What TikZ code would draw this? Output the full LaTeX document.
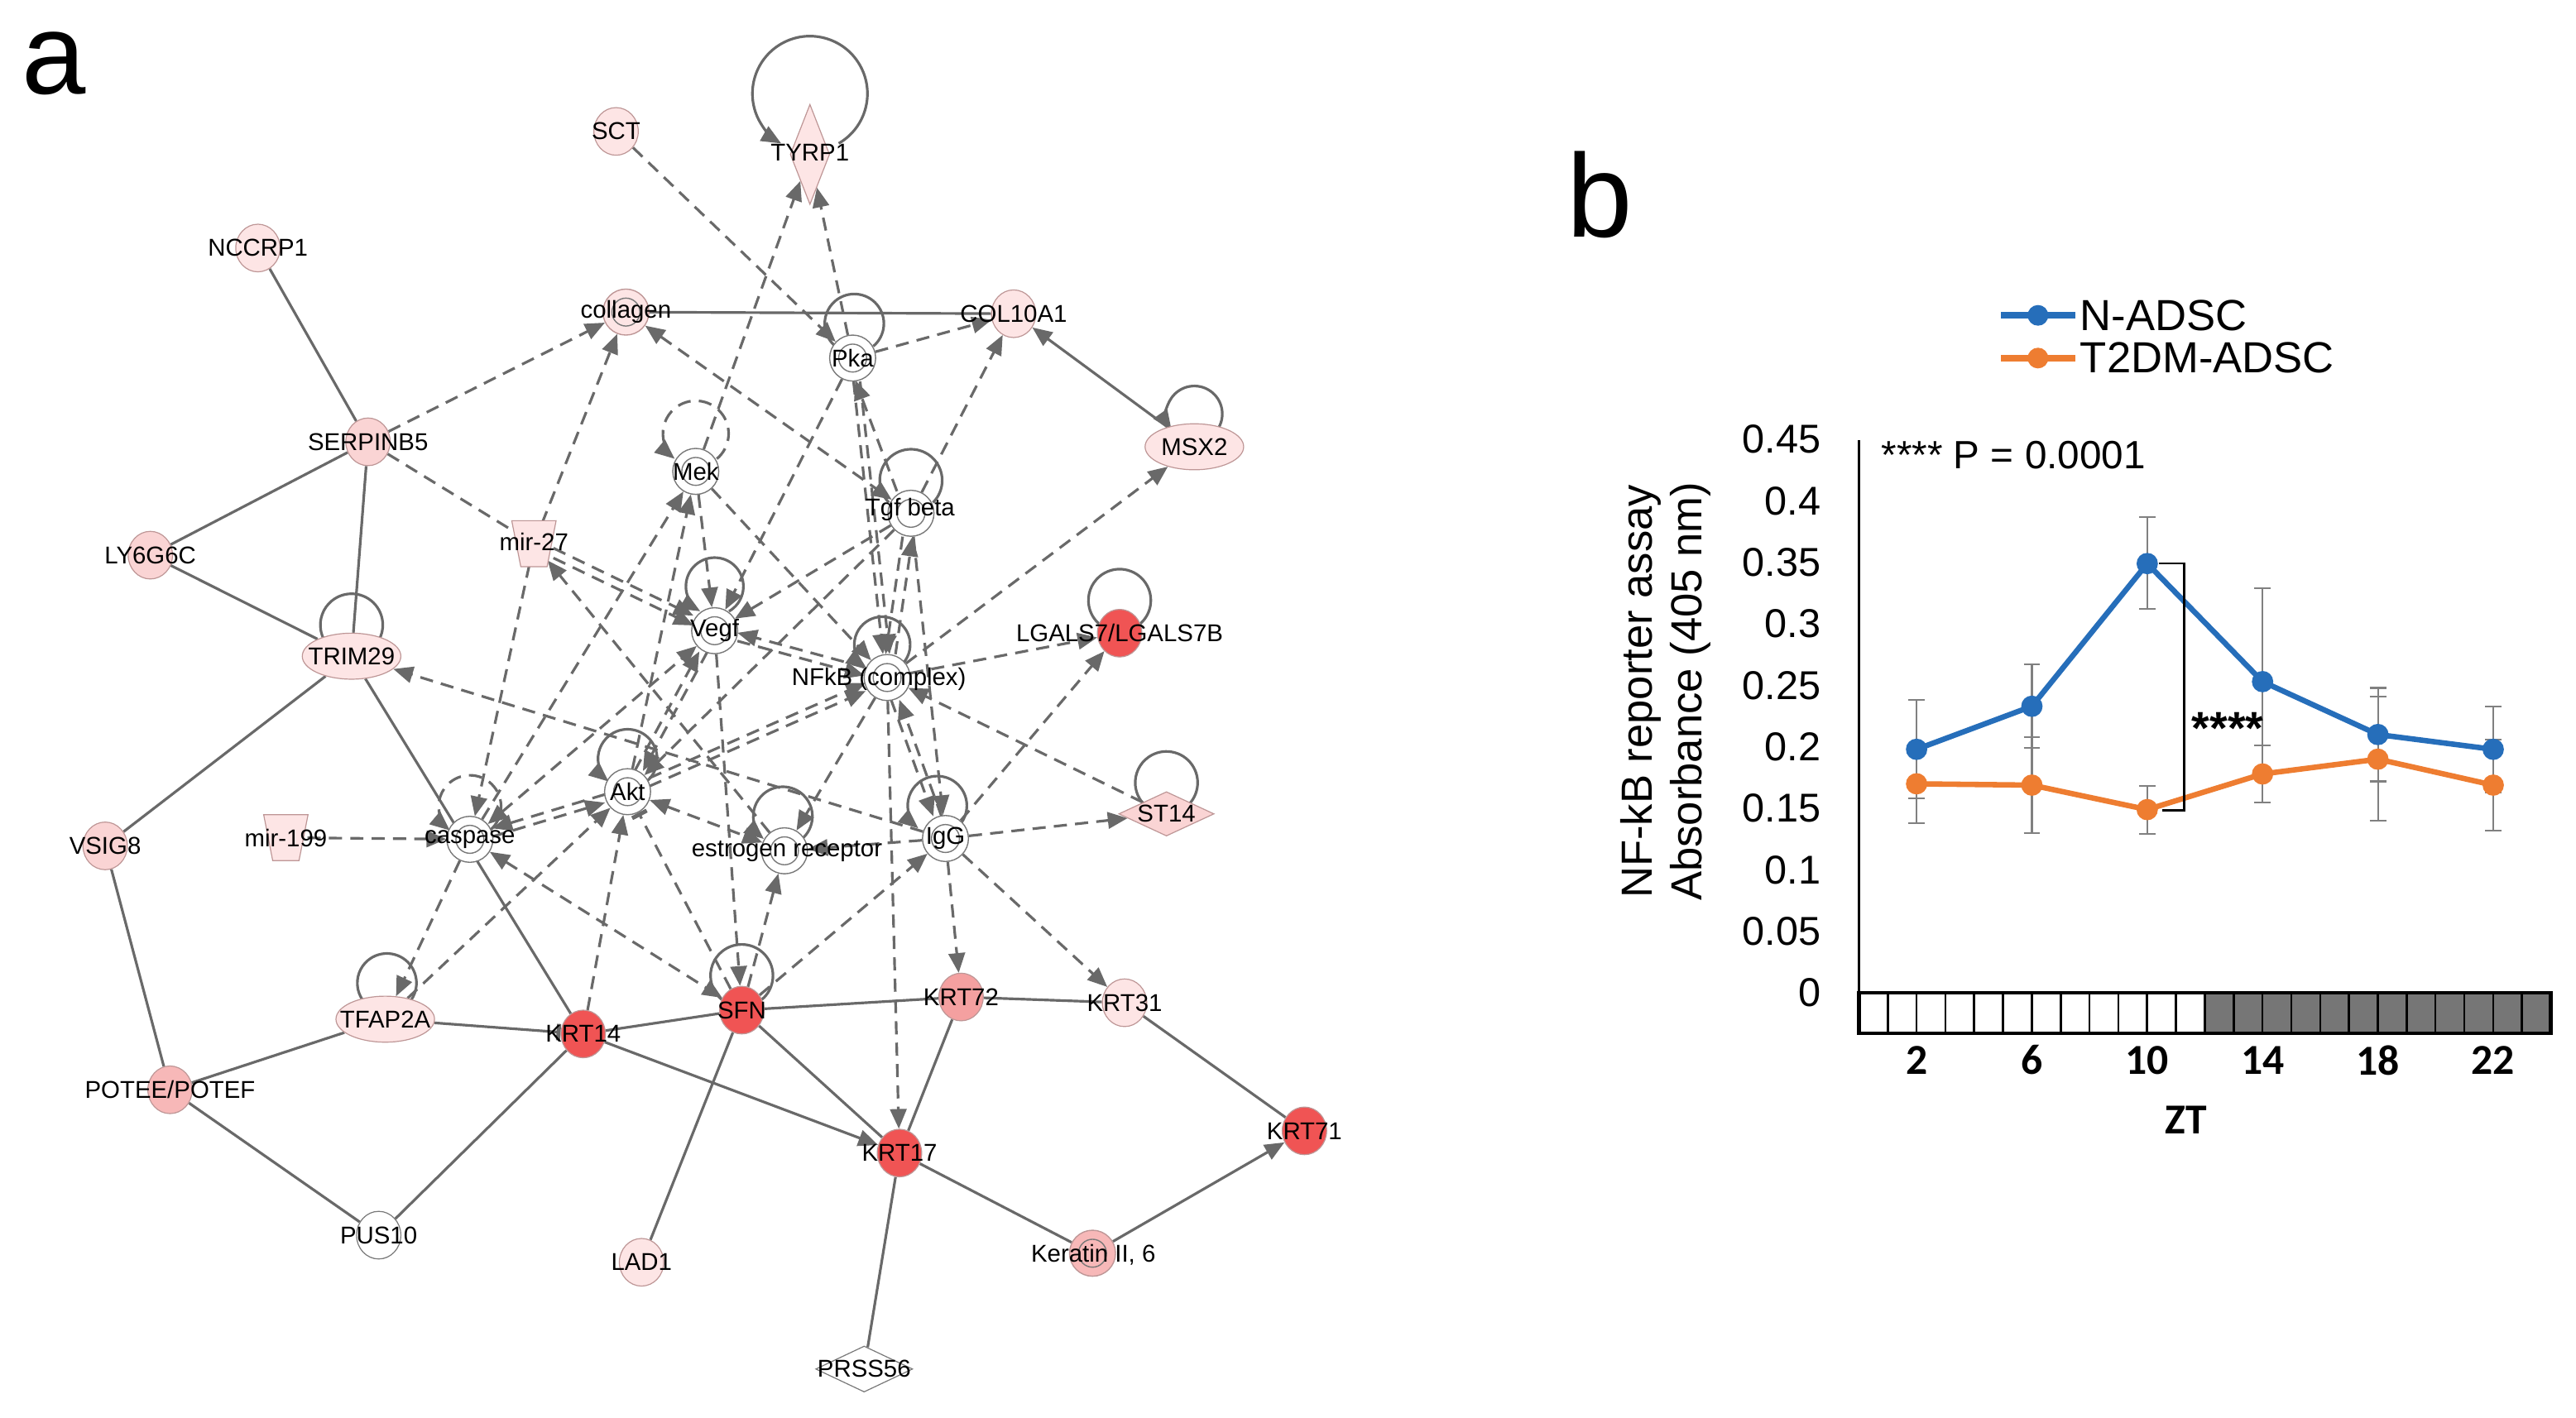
\documentclass[tikz,border=0pt]{standalone}
\usepackage{fontspec}
\setmainfont{Liberation Sans}
\newfontfamily\carl{Carlito}
\usetikzlibrary{shapes.geometric,arrows.meta,calc}
\pgfdeclarelayer{bg}
\pgfsetlayers{bg,main}
\definecolor{eg}{RGB}{105,105,105}
\definecolor{pbd}{RGB}{190,150,150}
\definecolor{wbd}{RGB}{120,120,120}
\definecolor{pa}{RGB}{253,229,229}
\definecolor{pb}{RGB}{250,212,212}
\definecolor{pc}{RGB}{247,184,184}
\definecolor{pd}{RGB}{244,160,160}
\definecolor{rd}{RGB}{240,84,84}
\definecolor{nblue}{RGB}{38,110,186}
\definecolor{norange}{RGB}{238,125,49}
\definecolor{ebar}{RGB}{128,128,128}
\definecolor{cellgray}{RGB}{118,118,118}
\newcommand\selfloop[6]{%
  \draw[#1] (#2.center) ++({#3+#5*cos(#6)},{#4+#5*sin(#6)}) arc[start angle=#6, end angle={-180-#6}, radius=#5];}
\newcommand\mirshape[1]{%
  \filldraw[fill=pa, draw=pbd, line width=0.6pt] ($(#1)+(-13.5,-14)$) -- ($(#1)+(13.5,-14)$) -- ($(#1)+(8,14)$) -- ($(#1)+(-8,14)$) -- cycle;}
\tikzset{
  gcirc/.style={ellipse, minimum width=27pt, minimum height=29pt, inner sep=0pt, draw=pbd, line width=0.6pt, fill=#1},
  gcirc/.default=pa,
  wcirc/.style={circle, minimum size=28pt, inner sep=0pt, draw=wbd, line width=0.7pt, fill=#1,
    path picture={\draw[wbd, line width=0.7pt] (path picture bounding box.center) circle[radius=8.5pt];}},
  wcirc/.default=white,
  gell/.style={ellipse, minimum width=60pt, minimum height=28pt, inner sep=0pt, draw=pbd, line width=0.6pt, fill=pa},
  gdia/.style={diamond, inner sep=0pt, draw=pbd, line width=0.6pt, fill=pa},
  mirnode/.style={circle, minimum size=26pt, inner sep=0pt},
  glab/.style={font=\fontsize{14.8}{16}\selectfont, inner sep=0pt, text=black},
  solidE/.style={draw=eg, line width=1.6pt},
  dashE/.style={draw=eg, line width=1.6pt, dash pattern=on 8pt off 5pt},
  tipE/.style={-{Triangle[length=12pt,width=10pt]}},
  tipB/.style={{Triangle[length=12pt,width=10pt]}-{Triangle[length=12pt,width=10pt]}},
  barE/.style={-{Bar[width=10pt,line width=2.5pt]}},
  offs/.style={transform canvas={shift={#1}}},
  ytl/.style={anchor=east, inner sep=0pt, font=\fontsize{24.5}{28}\selectfont},
  xtl/.style={inner sep=0pt, font=\carl\bfseries\fontsize{26}{28}\selectfont},
  legt/.style={anchor=west, inner sep=0pt, font=\fontsize{26.5}{30}\selectfont},
}
\begin{document}
\begin{tikzpicture}[x=1pt, y=-1pt]
\begin{pgfonlayer}{bg}
\fill[white] (0,0) rectangle (1568,863);
\end{pgfonlayer}
\useasboundingbox (0,0) rectangle (1568,863);

% ---------------- panel labels
\node[anchor=base west, inner sep=0pt, font=\fontsize{70}{80}\selectfont] (pa-lab) at (13,57) {a};
\node[anchor=base west, inner sep=0pt, font=\fontsize{72}{80}\selectfont] (pb-lab) at (953.5,144.5) {b};

% ---------------- network nodes
\node[gcirc] (sct) at (375,80) {};
\node[gdia, minimum width=24pt, minimum height=61pt] (tyrp) at (493,94) {};
\node[gcirc] (nccrp) at (157,151) {};
\node[wcirc=pa, draw=pbd] (coll) at (381,190) {};
\node[gcirc] (col10) at (617,191) {};
\node[wcirc] (pka) at (519,218) {};
\node[gcirc=pb] (serp) at (224,269) {};
\node[gell] (msx) at (727,272) {};
\node[wcirc] (mek) at (423.5,287) {};
\node[wcirc] (tgf) at (554.5,312.5) {};
\node[mirnode] (mir27) at (325,331) {};
\mirshape{mir27}
\node[gcirc=pb] (ly6) at (91.5,338) {};
\node[wcirc] (vegf) at (435,384) {};
\node[gcirc=rd] (lgals) at (681.5,385.5) {};
\node[gell] (trim) at (214,399.5) {};
\node[wcirc] (nfkb) at (540,412.5) {};
\node[wcirc] (akt) at (382,482) {};
\node[gdia, minimum width=58pt, minimum height=27pt, fill=pb] (st14) at (710,495.5) {};
\node[wcirc] (casp) at (286,511) {};
\node[mirnode] (mir199) at (174,510) {};
\mirshape{mir199}
\node[gcirc=pb] (vsig) at (64,515) {};
\node[wcirc] (estr) at (477.5,518) {};
\node[wcirc] (igg) at (575.5,510.5) {};
\node[gell] (tfap) at (234.5,620.5) {};
\node[gcirc=rd] (krt14) at (355,629.5) {};
\node[gcirc=rd] (sfn) at (451.5,615) {};
\node[gcirc=pd] (krt72) at (585,607) {};
\node[gcirc] (krt31) at (684.5,610.5) {};
\node[gcirc=pc] (potee) at (103.5,663.5) {};
\node[gcirc=rd] (krt17) at (547.5,702) {};
\node[gcirc=rd] (krt71) at (794,688.5) {};
\node[gcirc=white, draw=wbd] (pus10) at (230.5,752) {};
\node[gcirc] (lad1) at (390.5,768.5) {};
\node[wcirc=pc, draw=pbd] (ker6) at (665,763) {};
\node[gdia, minimum width=59pt, minimum height=28pt, fill=white, draw=wbd] (prss) at (526,833.5) {};

% ---------------- network labels
\node[glab] (sct-l) at (sct) {SCT};
\node[glab] (tyrp-l) at (493,93) {TYRP1};
\node[glab] (nccrp-l) at (nccrp) {NCCRP1};
\node[glab] (coll-l) at (coll) {collagen};
\node[glab] (col10-l) at (col10) {COL10A1};
\node[glab] (pka-l) at (pka) {Pka};
\node[glab] (serp-l) at (serp) {SERPINB5};
\node[glab] (msx-l) at (msx) {MSX2};
\node[glab] (mek-l) at (mek) {Mek};
\node[glab] (tgf-l) at (554,310) {Tgf beta};
\node[glab] (mir27-l) at (325,330) {mir-27};
\node[glab] (ly6-l) at (ly6) {LY6G6C};
\node[glab] (vegf-l) at (vegf) {Vegf};
\node[glab] (lgals-l) at (lgals) {LGALS7/LGALS7B};
\node[glab] (trim-l) at (trim) {TRIM29};
\node[glab] (nfkb-l) at (535,413.5) {NFkB (complex)};
\node[glab] (akt-l) at (akt) {Akt};
\node[glab] (st14-l) at (st14) {ST14};
\node[glab] (casp-l) at (casp) {caspase};
\node[glab] (mir199-l) at (174,510) {mir-199};
\node[glab] (vsig-l) at (vsig) {VSIG8};
\node[glab] (estr-l) at (479,518.5) {estrogen receptor};
\node[glab] (igg-l) at (igg) {IgG};
\node[glab] (tfap-l) at (tfap) {TFAP2A};
\node[glab] (krt14-l) at (krt14) {KRT14};
\node[glab] (sfn-l) at (sfn) {SFN};
\node[glab] (krt72-l) at (krt72) {KRT72};
\node[glab] (krt31-l) at (krt31) {KRT31};
\node[glab] (potee-l) at (potee) {POTEE/POTEF};
\node[glab] (krt17-l) at (krt17) {KRT17};
\node[glab] (krt71-l) at (krt71) {KRT71};
\node[glab] (pus10-l) at (pus10) {PUS10};
\node[glab] (lad1-l) at (lad1) {LAD1};
\node[glab] (ker6-l) at (665.5,764) {Keratin II, 6};
\node[glab] (prss-l) at (prss) {PRSS56};

% ---------------- network connectors
\begin{pgfonlayer}{bg}
% solid
\draw[solidE] (serp) -- (nccrp);
\draw[solidE] (serp) -- (ly6);
\draw[solidE] (serp) -- (trim);
\draw[solidE] (ly6) -- (trim);
\draw[solidE] (trim) -- (vsig);
\draw[solidE] (trim) -- (krt14);
\draw[solidE] (vsig) -- (potee);
\draw[solidE] (potee) -- (tfap);
\draw[solidE] (potee) -- (pus10);
\draw[solidE, barE] (tfap) -- (krt14);
\draw[solidE] (krt14) -- (sfn);
\draw[solidE] (krt14) -- (pus10);
\draw[solidE, tipE] (krt14) -- (krt17);
\draw[solidE] (sfn) -- (krt72);
\draw[solidE] (krt72) -- (krt31);
\draw[solidE] (sfn) -- (krt17);
\draw[solidE] (krt72) -- (krt17);
\draw[solidE] (sfn) -- (lad1);
\draw[solidE] (krt31) -- (krt71);
\draw[solidE] (krt17) -- (ker6);
\draw[solidE, tipE] (ker6) -- (krt71);
\draw[solidE] (krt17) -- (prss);
\draw[solidE] (coll) -- (col10);
\draw[solidE, tipE] (msx) -- (col10);
% dashed
\draw[dashE, tipE] (sct) -- (pka);
\draw[dashE, tipE] (serp) -- (coll);
\draw[dashE] (serp) -- (mir27);
\draw[dashE, tipE] (mir27) -- (coll);
\draw[dashE, tipE, offs={(0,-3)}] (mir27) -- (vegf);
\draw[dashE, tipE, offs={(0,3)}] (mir27) -- (vegf);
\draw[dashE, tipE] (estr) -- (mir27);
\draw[dashE, tipE] (mir27) -- (casp);
\draw[dashE, tipE] (pka) -- (tyrp);
\draw[dashE, tipE] (mek) -- (tyrp);
\draw[dashE, tipE] (pka) -- (col10);
\draw[dashE, tipE] (pka) -- (vegf);
\draw[dashE, tipE, offs={(-3.5,0)}] (tgf) -- (pka);
\draw[dashE, tipE, offs={(-1,0)}] (pka) -- (nfkb);
\draw[dashE, tipE, offs={(3,0)}] (pka) -- (nfkb);
\draw[dashE, tipB] (coll) -- (tgf);
\draw[dashE, tipE] (tgf) -- (col10);
\draw[dashE, tipE] (tgf) -- (vegf);
\draw[dashE, tipE, offs={(-3,0)}] (tgf) -- (nfkb);
\draw[dashE, tipE, offs={(3,0)}] (nfkb) -- (tgf);
\draw[dashE, tipE] (tgf) -- (igg);
\draw[dashE, tipE] (tgf) -- (akt);
\draw[dashE, tipE] (mek) -- (vegf);
\draw[dashE, tipE] (mek) -- (nfkb);
\draw[dashE, tipE] (akt) -- (mek);
\draw[dashE, tipE] (casp) -- (mek);
\draw[dashE, tipE, offs={(0,-2.5)}] (nfkb) -- (vegf);
\draw[dashE, tipE, offs={(0,2.5)}] (vegf) -- (nfkb);
\draw[dashE, tipE] (nfkb) -- (lgals);
\draw[dashE, tipE] (nfkb) -- (msx);
\draw[dashE, tipE] (st14) -- (nfkb);
\draw[dashE, tipE, offs={(-2.5,0)}] (nfkb) -- (igg);
\draw[dashE, tipE, offs={(2.5,0)}] (igg) -- (nfkb);
\draw[dashE, tipE] (nfkb) -- (krt17);
\draw[dashE, tipE] (nfkb) -- (estr);
\draw[dashE, tipE, offs={(0,-2.5)}] (akt) -- (nfkb);
\draw[dashE, tipE, offs={(0,2.5)}] (akt) -- (nfkb);
\draw[dashE, tipE, offs={(-2.5,0)}] (akt) -- (vegf);
\draw[dashE, tipE, offs={(2.5,0)}] (vegf) -- (akt);
\draw[dashE, tipB] (casp) -- (vegf);
\draw[dashE, tipE, offs={(0,-2.5)}] (akt) -- (casp);
\draw[dashE, tipE, offs={(0,2.5)}] (casp) -- (akt);
\draw[dashE, tipE] (mir199) -- (casp);
\draw[dashE, tipE] (krt14) -- (akt);
\draw[dashE, tipE] (tfap) -- (akt);
\draw[dashE, tipE] (casp) -- (tfap);
\draw[dashE, barE] (sfn) -- (akt);
\draw[dashE, tipB] (casp) -- (sfn);
\draw[dashE, tipB] (akt) -- (estr);
\draw[dashE, tipE] (vegf) -- (sfn);
\draw[dashE, tipE] (sfn) -- (igg);
\draw[dashE, tipE] (sfn) -- (estr);
\draw[dashE, tipE] (igg) -- (lgals);
\draw[dashE, tipE] (igg) -- (st14);
\draw[dashE, tipE] (igg) -- (krt72);
\draw[dashE, tipE] (igg) -- (krt31);
\draw[dashE, tipE] (igg) -- (trim);
\draw[dashE, tipE] (igg) -- (estr);
% self loops
\selfloop{solidE,tipE}{tyrp}{0}{-37}{35}{60}
\selfloop{solidE}{pka}{1}{-21}{18}{50}
\selfloop{dashE,tipE}{mek}{0}{-23}{20}{50}
\selfloop{solidE}{tgf}{0}{-20}{19}{45}
\selfloop{solidE,tipE}{vegf}{0}{-27}{17.5}{60}
\selfloop{solidE,tipE}{nfkb}{-3}{-20}{17}{55}
\selfloop{solidE,tipE}{akt}{0}{-20}{18}{50}
\selfloop{solidE,tipE}{estr}{-1}{-21}{18}{50}
\selfloop{solidE,tipE}{igg}{-5}{-20}{18}{50}
\selfloop{solidE}{sfn}{0}{-21}{19}{50}
\selfloop{dashE,tipE}{casp}{0}{-20}{19}{50}
\selfloop{solidE}{trim}{0}{-19}{19}{50}
\selfloop{solidE}{tfap}{1}{-22}{18}{50}
\selfloop{solidE}{lgals}{0}{-20}{19}{50}
\selfloop{solidE}{st14}{0}{-19}{19}{55}
\selfloop{solidE,tipE}{msx}{0}{-20}{17}{35}
\end{pgfonlayer}

% ---------------- panel b: chart
% legend
\draw[nblue, line width=3.8pt] (1218,192) coordinate (lgb1) -- (1263,192) coordinate (lgb2);
\fill[nblue] (1240.5,192) circle[radius=6.3];
\node[legt] (legn) at (1266,192) {N-ADSC};
\draw[norange, line width=3.8pt] (1218,218) coordinate (lgo1) -- (1263,218) coordinate (lgo2);
\fill[norange] (1240.5,218) circle[radius=6.3];
\node[legt] (lego) at (1266,218) {T2DM-ADSC};

% y axis
\draw[black, line width=1.2pt] (1131.5,268) coordinate (yax-top) -- (1131.5,604.5) coordinate (yax-bot);
\foreach \v/\t/\n in {0/0/a,0.05/0.05/b,0.1/0.1/c,0.15/0.15/d,0.2/0.2/e,0.25/0.25/f,0.3/0.3/g,0.35/0.35/h,0.4/0.4/i,0.45/0.45/j}
  \node[ytl] (ytick-\n) at (1108.5,{604.5-748.9*\v}) {\t};
\node[rotate=90, align=center, inner sep=0pt, font=\fontsize{26.5}{30}\selectfont] (ytitle) at (1014,421) {NF-kB reporter assay\\Absorbance (405 nm)};

% light/dark bar
\foreach \i in {0,...,23}{
  \pgfmathsetmacro\xa{1131.5+17.546*\i}
  \pgfmathsetmacro\xb{\xa+17.546}
  \ifnum\i<12 \def\cf{white}\else \def\cf{cellgray}\fi
  \draw[black, line width=1.3pt, fill=\cf] (\xa,604.5) rectangle (\xb,629);
}
\draw[black, line width=2.2pt] (1131.5,604.5) rectangle (1552.6,629);
\foreach \h in {2,6,10,14,18,22}
  \node[xtl] (xtick-\h) at ({1131.5+17.55*\h},645.5) {\h};
\node[xtl] (zt) at (1330.5,682) {ZT};

% p value
\node[anchor=west, inner sep=0pt, font=\fontsize{24}{28}\selectfont] (pval) at (1145,277) {**** P = 0.0001};

% data lines
\draw[nblue, line width=3.3pt, line join=round] (1166.6,456.2) -- (1236.8,430.0) -- (1307.0,343.1) -- (1377.2,415.0) -- (1447.4,447.2) -- (1517.6,456.2);
\draw[norange, line width=3.3pt, line join=round] (1166.6,477.2) -- (1236.8,478.0) -- (1307.0,492.9) -- (1377.2,471.2) -- (1447.4,462.2) -- (1517.6,478.0);

% error bars
\foreach \x/\lo/\hi in {1166.6/486.2/426.3, 1236.8/455.5/404.5, 1307.0/370.9/314.7, 1377.2/471.9/358.1, 1447.4/475.7/418.8, 1517.6/482.4/430.0,
                         1166.6/501.2/453.2, 1236.8/507.1/448.7, 1307.0/507.9/478.7, 1377.2/488.4/454.0, 1447.4/499.7/424.0, 1517.6/505.6/450.2}{
  \draw[ebar, line width=1.1pt] (\x,\lo) -- (\x,\hi);
  \draw[ebar, line width=1.1pt] ({\x-5},\lo) -- ({\x+5},\lo);
  \draw[ebar, line width=1.1pt] ({\x-5},\hi) -- ({\x+5},\hi);
}

% markers
\foreach \x/\y in {1166.6/456.2, 1236.8/430.0, 1307.0/343.1, 1377.2/415.0, 1447.4/447.2, 1517.6/456.2}
  \fill[nblue] (\x,\y) circle[radius=6.5];
\foreach \x/\y in {1166.6/477.2, 1236.8/478.0, 1307.0/492.9, 1377.2/471.2, 1447.4/462.2, 1517.6/478.0}
  \fill[norange] (\x,\y) circle[radius=6.5];

% significance bracket
\draw[black, line width=1.3pt] (1314,343) coordinate (br1) -- (1329.5,343) -- (1329.5,493.5) -- (1316,493.5) coordinate (br2);
\node[anchor=west, inner sep=0pt, font=\bfseries\fontsize{28}{30}\selectfont] (sig) at (1334,443.5) {****};
\end{tikzpicture}
\end{document}
